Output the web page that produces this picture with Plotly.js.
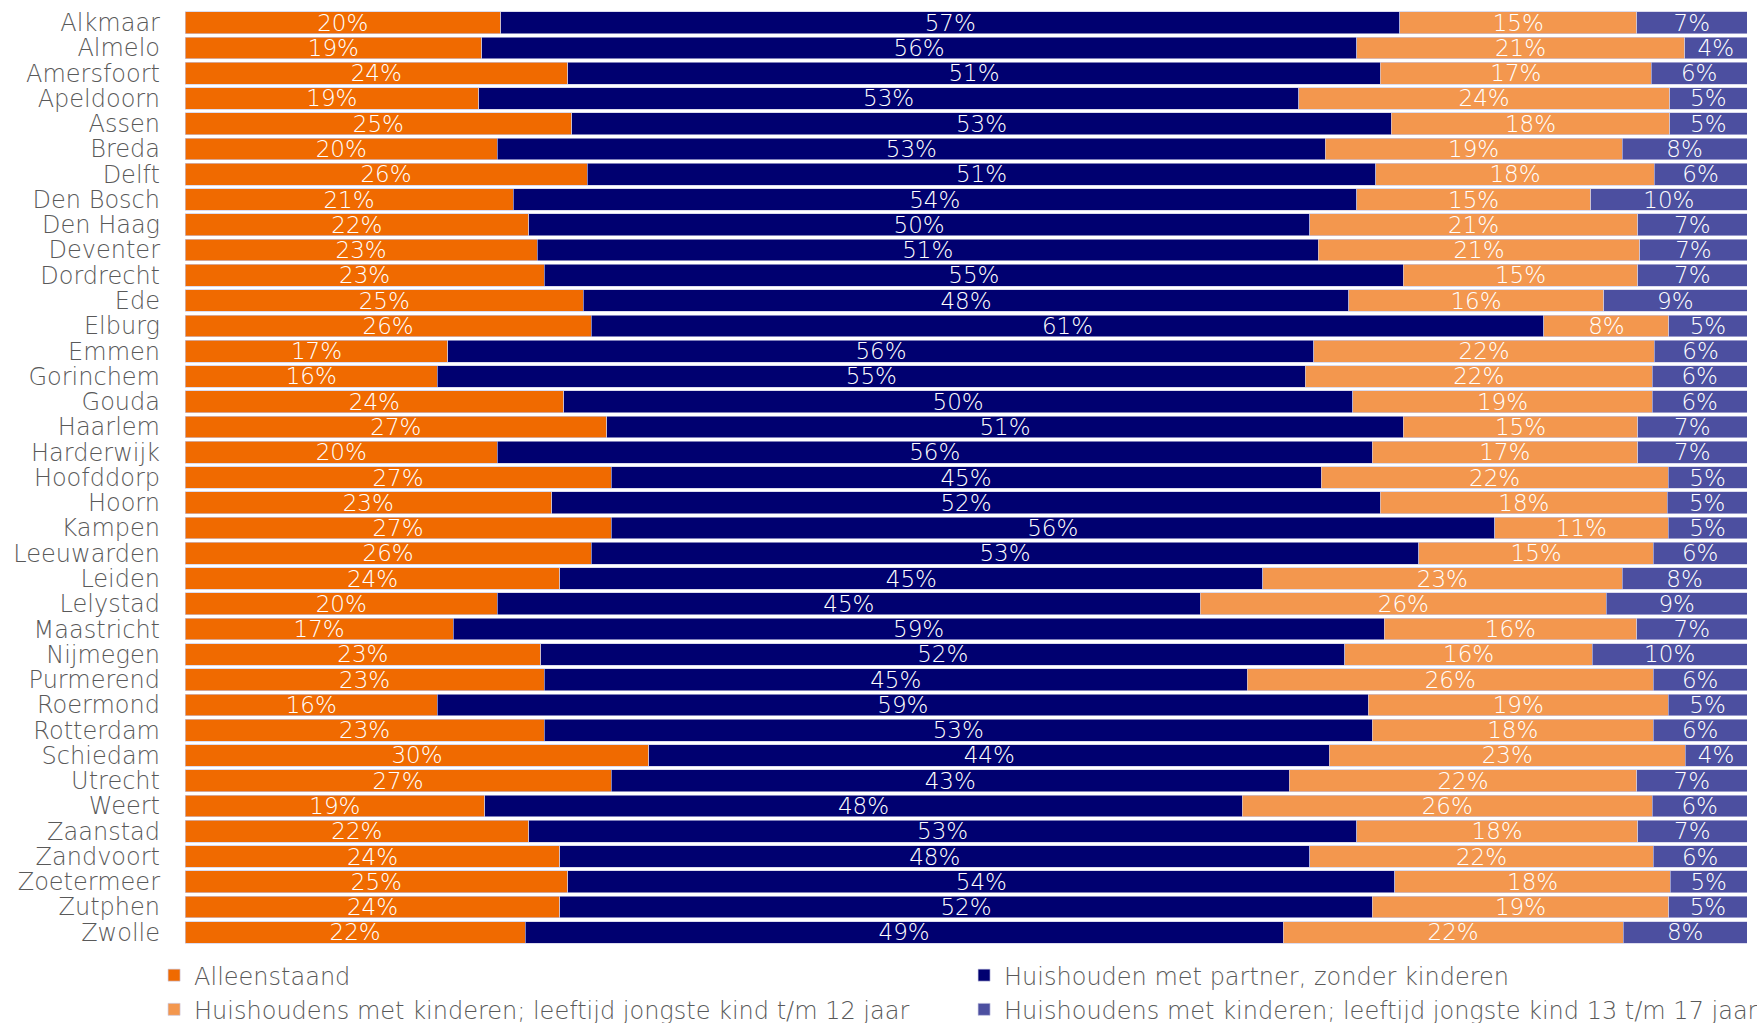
<!DOCTYPE html>
<html>
<head>
<meta charset="utf-8">
<script src="https://cdn.plot.ly/plotly-3.0.1.min.js"></script>
<style>
html,body{margin:0;padding:0;background:#ffffff;}
#chart{width:1757px;height:1023px;}
</style>
</head>
<body>
<div id="chart"></div>
<script>
const cities = ["Alkmaar","Almelo","Amersfoort","Apeldoorn","Assen","Breda","Delft","Den Bosch","Den Haag","Deventer","Dordrecht","Ede","Elburg","Emmen","Gorinchem","Gouda","Haarlem","Harderwijk","Hoofddorp","Hoorn","Kampen","Leeuwarden","Leiden","Lelystad","Maastricht","Nijmegen","Purmerend","Roermond","Rotterdam","Schiedam","Utrecht","Weert","Zaanstad","Zandvoort","Zoetermeer","Zutphen","Zwolle"];

const alleenstaand = [20,19,24,19,25,20,26,21,22,23,23,25,26,17,16,24,27,20,27,23,27,26,24,20,17,23,23,16,23,30,27,19,22,24,25,24,22];
const partnerZonderKinderen = [57,56,51,53,53,53,51,54,50,51,55,48,61,56,55,50,51,56,45,52,56,53,45,45,59,52,45,59,53,44,43,48,53,48,54,52,49];
const kinderenTot12 = [15,21,17,24,18,19,18,15,21,21,15,16,8,22,22,19,15,17,22,18,11,15,23,26,16,16,26,19,18,23,22,26,18,22,18,19,22];
const kinderen13tot17 = [7,4,6,5,5,8,6,10,7,7,7,9,5,6,6,6,7,7,5,5,5,6,8,9,7,10,6,5,6,4,7,6,7,6,5,5,8];

const seriesNames = [
  "Alleenstaand",
  "Huishouden met partner, zonder kinderen",
  "Huishoudens met kinderen; leeftijd jongste kind t/m 12 jaar",
  "Huishoudens met kinderen; leeftijd jongste kind 13 t/m 17 jaar"
];
const seriesValues = [alleenstaand, partnerZonderKinderen, kinderenTot12, kinderen13tot17];
const seriesColors = ["#F06A00", "#000070", "#F3974E", "#4C4FA0"];

const FONT = "'DejaVu Sans', 'Open Sans', sans-serif";

const traces = seriesValues.map((vals, i) => ({
  type: "bar",
  orientation: "h",
  name: seriesNames[i],
  y: cities,
  x: vals,
  text: vals.map(v => v + "%"),
  texttemplate: "%{text}",
  textposition: "inside",
  insidetextanchor: "middle",
  constraintext: "none",
  textangle: 0,
  textfont: {family: FONT, size: 23, color: "#ffffff", weight: 200},
  marker: {color: seriesColors[i], line: {width: 0.8, color: "rgba(200,200,228,0.8)"}},
  hoverinfo: "skip"
}));

const layout = {
  width: 1757,
  height: 1023,
  barmode: "stack",
  barnorm: "percent",
  bargap: 0.14,
  margin: {l: 185, r: 10, t: 10, b: 78, autoexpand: false},
  paper_bgcolor: "#ffffff",
  plot_bgcolor: "#ffffff",
  font: {family: FONT, size: 24, color: "#595959", weight: 200},
  xaxis: {
    range: [0, 100],
    showgrid: false,
    zeroline: false,
    showticklabels: false,
    showline: false,
    ticks: "",
    fixedrange: true
  },
  yaxis: {
    autorange: "reversed",
    type: "category",
    tickmode: "array",
    tickvals: cities,
    ticktext: cities,
    showgrid: false,
    zeroline: false,
    showline: false,
    ticks: "",
    ticklabelstandoff: 24,
    tickfont: {family: FONT, size: 24, color: "#595959", weight: 200},
    fixedrange: true
  },
  showlegend: true,
  legend: {
    orientation: "h",
    traceorder: "normal",
    x: -0.0198,
    xanchor: "left",
    y: -0.0086,
    yanchor: "top",
    entrywidth: 765,
    entrywidthmode: "pixels",
    font: {family: FONT, size: 24, color: "#595959", weight: 200},
    bgcolor: "rgba(0,0,0,0)"
  }
};

Plotly.newPlot("chart", traces, layout, {displayModeBar: false, staticPlot: true});
</script>
</body>
</html>
